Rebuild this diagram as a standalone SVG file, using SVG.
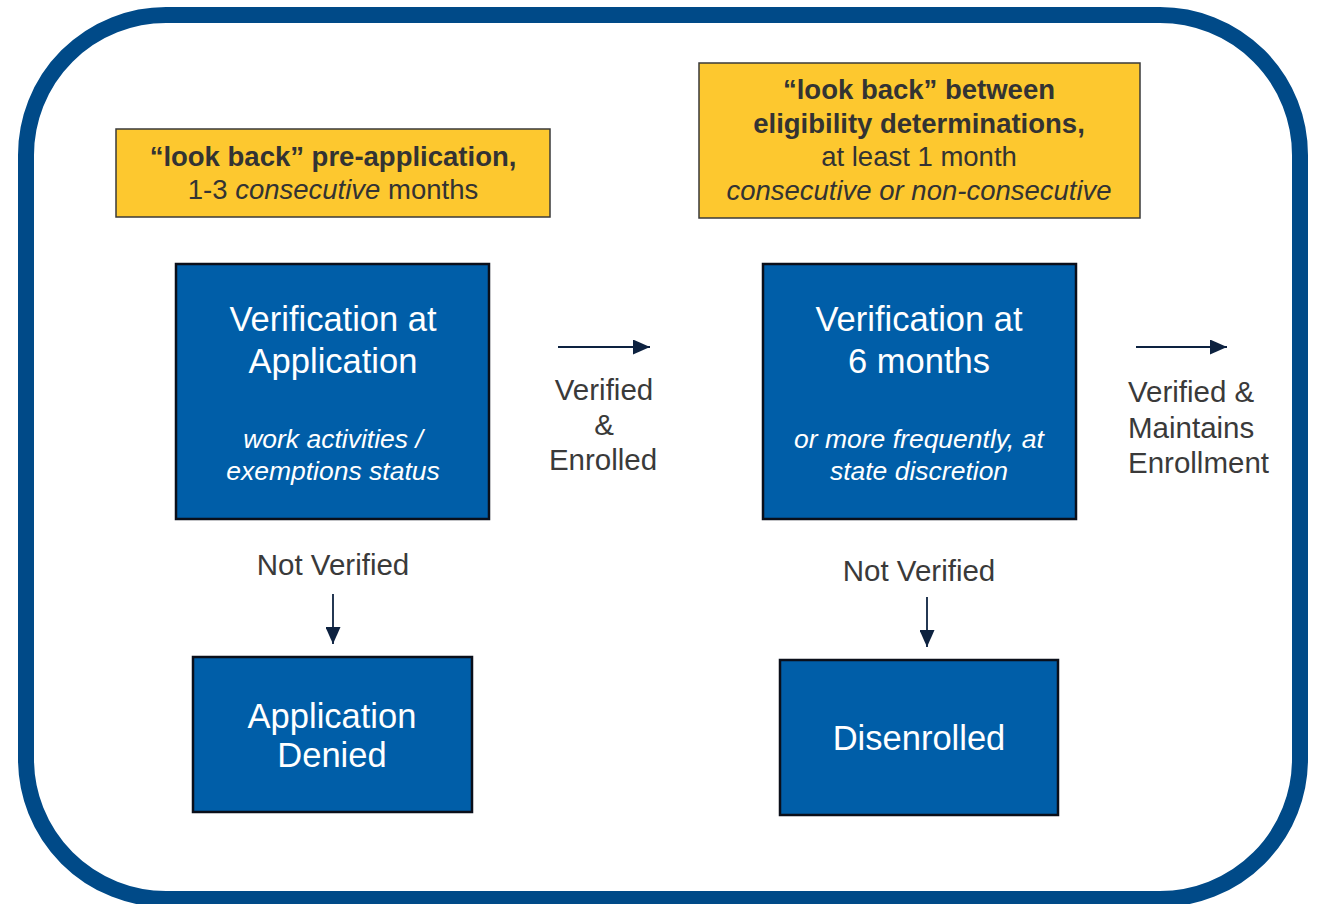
<svg xmlns="http://www.w3.org/2000/svg" width="1317" height="904" viewBox="0 0 1317 904">
  <style>
    text { font-family: "Liberation Sans", Arial, sans-serif; }
    .frame { fill: #ffffff; stroke: #004a88; stroke-width: 16; }
    .note { fill: #fdc82f; stroke: #3a3a3a; stroke-width: 1.5; }
    .step { fill: #005ea8; stroke: #0a0f1a; stroke-width: 2.5; }
    .note-text { fill: #333333; font-size: 27.5px; text-anchor: middle; }
    .b { font-weight: bold; }
    .i { font-style: italic; }
    .step-title { fill: #ffffff; font-size: 34.5px; text-anchor: middle; }
    .step-sub { fill: #ffffff; font-size: 26.5px; font-style: italic; text-anchor: middle; }
    .label { fill: #3a3a3a; font-size: 29.5px; }
    .flow { stroke: #0d2240; stroke-width: 1.8; fill: none; marker-end: url(#head); }
  </style>
  <defs>
    <marker id="head" viewBox="0 0 10 10" refX="10" refY="5" markerWidth="17" markerHeight="15" markerUnits="userSpaceOnUse" orient="auto" preserveAspectRatio="none">
      <path d="M0,0 L10,5 L0,10 Z" fill="#0d2240"/>
    </marker>
  </defs>

  <!-- outer frame -->
  <rect class="frame" x="26" y="15" width="1274" height="884" rx="140" ry="140"/>

  <!-- look-back notes -->
  <g id="note-pre-application">
    <rect class="note" x="116" y="129" width="434" height="88"/>
    <text class="note-text b" x="333" y="166">“look back” pre-application,</text>
    <text class="note-text" x="333" y="199">1-3 <tspan class="i">consecutive</tspan> months</text>
  </g>
  <g id="note-between">
    <rect class="note" x="699" y="63" width="441" height="155"/>
    <text class="note-text b" x="919" y="99">“look back” between</text>
    <text class="note-text b" x="919" y="133">eligibility determinations,</text>
    <text class="note-text" x="919" y="166">at least 1 month</text>
    <text class="note-text i" x="919" y="200">consecutive or non-consecutive</text>
  </g>

  <!-- steps -->
  <g id="verify-application">
    <rect class="step" x="176" y="264" width="313" height="255"/>
    <text class="step-title" x="333" y="331">Verification at</text>
    <text class="step-title" x="333" y="373">Application</text>
    <text class="step-sub" x="333" y="448">work activities /</text>
    <text class="step-sub" x="333" y="480">exemptions status</text>
  </g>
  <g id="verify-6-months">
    <rect class="step" x="763" y="264" width="313" height="255"/>
    <text class="step-title" x="919" y="331">Verification at</text>
    <text class="step-title" x="919" y="373">6 months</text>
    <text class="step-sub" x="919" y="448">or more frequently, at</text>
    <text class="step-sub" x="919" y="480">state discretion</text>
  </g>
  <g id="application-denied">
    <rect class="step" x="193" y="657" width="279" height="155"/>
    <text class="step-title" x="332" y="728">Application</text>
    <text class="step-title" x="332" y="767">Denied</text>
  </g>
  <g id="disenrolled">
    <rect class="step" x="780" y="660" width="278" height="155"/>
    <text class="step-title" x="919" y="750">Disenrolled</text>
  </g>

  <!-- connectors -->
  <g id="connectors">
    <line class="flow" x1="558" y1="347" x2="650" y2="347"/>
    <line class="flow" x1="1136" y1="347" x2="1227" y2="347"/>
    <line class="flow" x1="333" y1="594" x2="333" y2="644"/>
    <line class="flow" x1="927" y1="597" x2="927" y2="647"/>
  </g>

  <!-- connector labels -->
  <g id="labels">
    <text class="label" x="604" y="400" text-anchor="middle">Verified</text>
    <text class="label" x="604" y="435" text-anchor="middle">&amp;</text>
    <text class="label" x="603" y="470" text-anchor="middle">Enrolled</text>
    <text class="label" x="1128" y="402">Verified &amp;</text>
    <text class="label" x="1128" y="438">Maintains</text>
    <text class="label" x="1128" y="473">Enrollment</text>
    <text class="label" x="333" y="575" text-anchor="middle">Not Verified</text>
    <text class="label" x="919" y="581" text-anchor="middle">Not Verified</text>
  </g>
</svg>
